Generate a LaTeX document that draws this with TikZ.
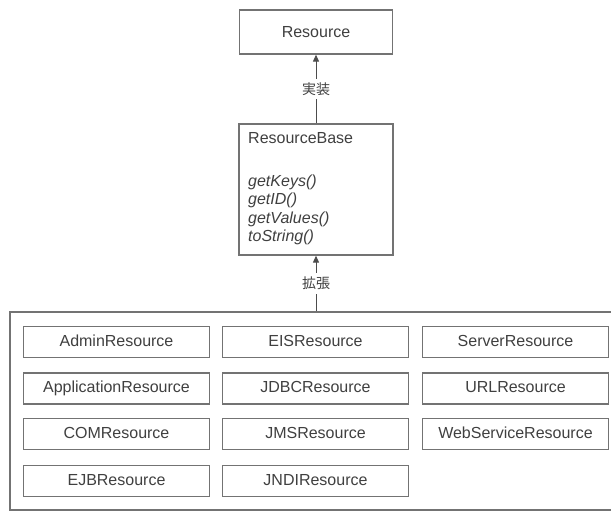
\documentclass[tikz,border=0pt]{standalone}
\usepackage{fontspec}
\setmainfont{Liberation Sans}
\newfontfamily\cjk{Noto Sans CJK JP}
\usetikzlibrary{arrows.meta}
\definecolor{linegray}{gray}{0.45}
\definecolor{textgray}{gray}{0.25}
\begin{document}
\begin{tikzpicture}[x=1pt,y=-1pt,
  box/.style={draw=linegray,line width=1.3pt,rectangle,inner sep=0pt},
  leaf/.style={box,minimum width=186pt,minimum height=31pt,
    font=\fontsize{16}{19}\selectfont,text=textgray,text height=11.5pt,text depth=3pt},
  txt/.style={inner sep=0pt,anchor=west,text=textgray,font=\fontsize{16}{19}\selectfont},
  meth/.style={txt,font=\fontsize{16}{19}\selectfont\itshape},
  rel/.style={font=\cjk\fontsize{14}{16}\selectfont,text=textgray,fill=white,inner sep=4pt},
  conn/.style={draw=black!70,line width=1pt},
  tip/.style={-{Triangle[width=6pt,length=7pt]}}
]
\useasboundingbox (0,0) rectangle (611,511);
\fill[white] (0,0) rectangle (611,511);
% top
\node[box,minimum width=153pt,minimum height=44pt,font=\fontsize{16}{19}\selectfont,text=textgray] (res) at (316,32) {Resource};
\node[box,minimum width=154pt,minimum height=131pt] (rb) at (316,189.5) {};
\node[txt] (rbname) at (248,138) {ResourceBase};
\node[meth] (m1) at (248,182) {getKeys()};
\node[meth] (m2) at (248,200.5) {getID()};
\node[meth] (m3) at (248,219) {getValues()};
\node[meth] (m4) at (248,237.5) {toString()};
% container
\node[box,minimum width=602pt,minimum height=198pt] (cont) at (311,411) {};
% leaves
\node[leaf] (admin) at (116.5,342) {AdminResource};
\node[leaf] (app)   at (116.5,388.5) {ApplicationResource};
\node[leaf] (com)   at (116.5,434) {COMResource};
\node[leaf] (ejb)   at (116.5,481) {EJBResource};
\node[leaf] (eis)   at (315.5,342) {EISResource};
\node[leaf] (jdbc)  at (315.5,388.5) {JDBCResource};
\node[leaf] (jms)   at (315.5,434) {JMSResource};
\node[leaf] (jndi)  at (315.5,481) {JNDIResource};
\node[leaf] (server) at (515.5,342) {ServerResource};
\node[leaf] (url)   at (515.5,388.5) {URLResource};
\node[leaf] (ws)    at (515.5,434) {WebServiceResource};
% connectors
\draw[conn,tip] (rb.north) -- node[rel]{実装} (res.south);
\coordinate (ctop) at (rb.south |- cont.north);
\draw[conn,tip] (ctop) -- node[rel,pos=0.5]{拡張} (rb.south);
\end{tikzpicture}
\end{document}
